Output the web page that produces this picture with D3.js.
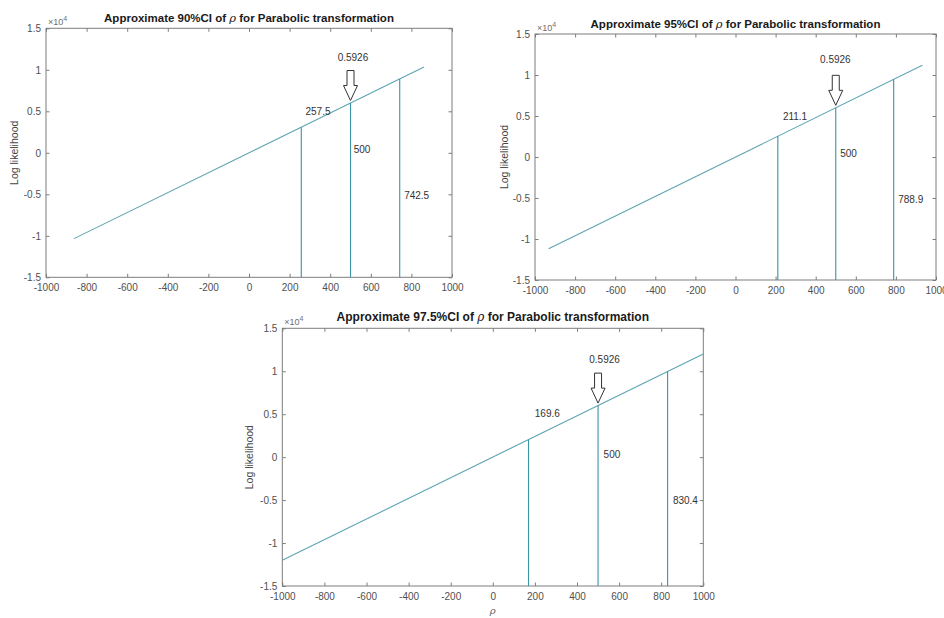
<!DOCTYPE html>
<html>
<head>
<meta charset="utf-8">
<script src="https://cdn.jsdelivr.net/npm/d3@7"></script>
<style>
  body { margin: 0; background: #fff; }
  svg { display: block; font-family: "Liberation Sans", Arial, sans-serif; }
</style>
</head>
<body>
<svg id="fig" width="944" height="618"></svg>
<script>
// Confidence level shown in each panel title
const ciLevels = ["90", "95", "97.5"];
// End points of the log-likelihood line (rho, log likelihood)
const lineRho = [[-862, 862], [-932, 932], [-1000, 1000]];
const lineLogLik = [[-10340, 10340], [-11180, 11180], [-12000, 12000]];
// Interval bounds and centre for each panel
const ciLower = [257.5, 211.1, 169.6];
const ciCentre = [500, 500, 500];
const ciUpper = [742.5, 788.9, 830.4];
// Point estimate written above the arrow
const rhoEstimate = ["0.5926", "0.5926", "0.5926"];
// Axis ticks
const xTicks = [-1000, -800, -600, -400, -200, 0, 200, 400, 600, 800, 1000];
const yTicks = [-15000, -10000, -5000, 0, 5000, 10000, 15000];
const yTickLabels = ["-1.5", "-1", "-0.5", "0", "0.5", "1", "1.5"];

// Panel boxes (pixels) and text anchors (data units)
const layout = [
  { left: 46, right: 452, top: 28.3, bottom: 277.3, titleGap: 6, titleSize: 11.5, yLabelX: 15,
    lowPos: [340, 4830], midPos: [557, 330], upPos: [826, -5200], estPos: [512, 11400], xLabel: false },
  { left: 535, right: 936, top: 34, bottom: 280, titleGap: 6.5, titleSize: 11.5, yLabelX: 505,
    lowPos: [297, 4840], midPos: [564, 300], upPos: [874, -5300], estPos: [498, 11800], xLabel: false },
  { left: 282.3, right: 703.3, top: 328.3, bottom: 586, titleGap: 7.5, titleSize: 12, yLabelX: 250,
    lowPos: [259, 4990], midPos: [566, 240], upPos: [915, -5190], estPos: [531, 11300], xLabel: true }
];

const svg = d3.select("#fig");
const axisColor = "#7d7d7d";
const tickTextColor = "#505050";
const lineColor = "#5ea4b3";
const ciColor = "#3a93a6";
const tickLen = 3.5;

layout.forEach((L, i) => {
  const g = svg.append("g");
  const x = d3.scaleLinear().domain([-1000, 1000]).range([L.left, L.right]);
  const y = d3.scaleLinear().domain([-15000, 15000]).range([L.bottom, L.top]);

  // Axes with inward ticks on all four sides
  const styleAxis = sel => {
    sel.select(".domain").remove();
    sel.selectAll(".tick line").attr("stroke", axisColor);
    sel.selectAll(".tick text").attr("fill", tickTextColor).attr("font-size", 10)
      .attr("font-family", "\"Liberation Sans\", Arial, sans-serif");
  };
  g.append("g").attr("transform", `translate(0,${L.bottom})`)
    .call(d3.axisBottom(x).tickValues(xTicks).tickSizeInner(-tickLen).tickSizeOuter(0)
      .tickPadding(7).tickFormat(d => String(d)))
    .call(styleAxis);
  g.append("g").attr("transform", `translate(0,${L.top})`)
    .call(d3.axisTop(x).tickValues(xTicks).tickSizeInner(-tickLen).tickSizeOuter(0).tickFormat(""))
    .call(styleAxis);
  g.append("g").attr("transform", `translate(${L.left},0)`)
    .call(d3.axisLeft(y).tickValues(yTicks).tickSizeInner(-tickLen).tickSizeOuter(0)
      .tickPadding(5).tickFormat((d, k) => yTickLabels[k]))
    .call(styleAxis);
  g.append("g").attr("transform", `translate(${L.right},0)`)
    .call(d3.axisRight(y).tickValues(yTicks).tickSizeInner(-tickLen).tickSizeOuter(0).tickFormat(""))
    .call(styleAxis);

  // Plot box
  g.append("rect")
    .attr("x", L.left).attr("y", L.top)
    .attr("width", L.right - L.left).attr("height", L.bottom - L.top)
    .attr("fill", "none").attr("stroke", axisColor).attr("stroke-width", 1);

  // Exponent marker
  const ex = g.append("text").attr("x", L.left + 2).attr("y", L.top - 3)
    .attr("font-size", 9).attr("fill", "#707070");
  ex.append("tspan").text("\u00d710");
  ex.append("tspan").attr("font-size", 7).attr("dy", -4).text("4");

  // Title
  const t = g.append("text")
    .attr("x", (L.left + L.right) / 2).attr("y", L.top - L.titleGap)
    .attr("text-anchor", "middle").attr("font-weight", "bold")
    .attr("font-size", L.titleSize).attr("fill", "#1a1a1a");
  t.append("tspan").text(`Approximate ${ciLevels[i]}%CI of `);
  t.append("tspan").attr("font-style", "italic").attr("font-weight", "normal")
    .attr("font-family", "\"DejaVu Serif\", serif").text("\u03c1");
  t.append("tspan").text(" for Parabolic transformation");

  // Y label
  g.append("text")
    .attr("transform", `translate(${L.yLabelX},${(L.top + L.bottom) / 2}) rotate(-90)`)
    .attr("text-anchor", "middle").attr("dominant-baseline", "middle")
    .attr("font-size", 10.5).attr("fill", "#454545").text("Log likelihood");

  if (L.xLabel) {
    g.append("text").attr("x", (L.left + L.right) / 2).attr("y", 614)
      .attr("text-anchor", "middle").attr("font-size", 10).attr("font-style", "italic")
      .attr("font-family", "\"DejaVu Serif\", serif").attr("fill", "#606060").text("\u03c1");
  }

  // Log-likelihood line
  const pts = lineRho[i].map((r, k) => [r, lineLogLik[i][k]]);
  g.append("path")
    .attr("d", d3.line().x(d => x(d[0])).y(d => y(d[1]))(pts))
    .attr("fill", "none").attr("stroke", lineColor).attr("stroke-width", 1.1);

  // Vertical lines from the axis up to the log-likelihood line
  const along = d3.scaleLinear().domain(lineRho[i]).range(lineLogLik[i]);
  [ciLower[i], ciCentre[i], ciUpper[i]].forEach(v => {
    g.append("line")
      .attr("x1", x(v)).attr("x2", x(v))
      .attr("y1", y(-15000)).attr("y2", y(along(v)))
      .attr("stroke", ciColor).attr("stroke-width", 1.1);
  });

  // Value labels
  const label = (pos, txt) => g.append("text")
    .attr("x", x(pos[0])).attr("y", y(pos[1]))
    .attr("text-anchor", "middle").attr("dominant-baseline", "middle")
    .attr("font-size", 10).attr("fill", "#333").text(txt);
  label(L.lowPos, String(ciLower[i]));
  label(L.midPos, String(ciCentre[i]));
  label(L.upPos, String(ciUpper[i]));
  label(L.estPos, rhoEstimate[i]);

  // Block arrow pointing at the centre
  const tx = x(ciCentre[i]);
  const ty = y(along(ciCentre[i])) - 2.5;
  const arrow = [
    [tx - 3.5, ty - 30], [tx + 3.5, ty - 30], [tx + 3.5, ty - 15], [tx + 7, ty - 15],
    [tx, ty], [tx - 7, ty - 15], [tx - 3.5, ty - 15]
  ];
  g.append("path")
    .attr("d", d3.line()(arrow) + "Z")
    .attr("fill", "#fff").attr("stroke", "#333").attr("stroke-width", 1);
});
</script>
</body>
</html>
